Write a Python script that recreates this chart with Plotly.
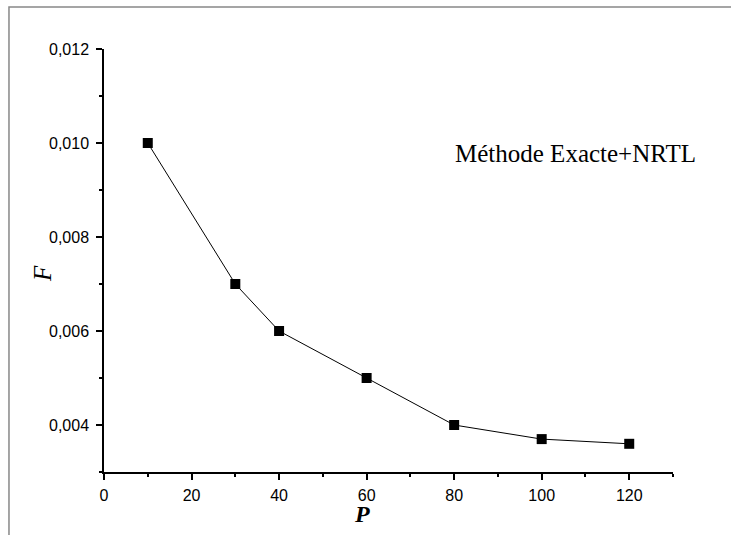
import plotly.graph_objects as go

# data
P = [10, 30, 40, 60, 80, 100, 120]
F = [0.010, 0.007, 0.006, 0.005, 0.004, 0.0037, 0.0036]

x_ticks = [0, 20, 40, 60, 80, 100, 120]
y_ticks = [0.004, 0.006, 0.008, 0.010, 0.012]
y_labels = ["0,004", "0,006", "0,008", "0,010", "0,012"]

fig = go.Figure()

fig.add_trace(go.Scatter(x=P, y=F,
                    mode='lines+markers',
                    line=dict(color='black', width=1),
                    marker=dict(symbol='square', size=10, color='black'),
                    showlegend=False))

axis_font = dict(family="Liberation Sans, Arial", size=16, color="black")

fig.update_xaxes(range=[0, 130], tickvals=x_ticks, ticktext=[str(v) for v in x_ticks],
                 showline=True, linecolor='black', linewidth=1.5, showgrid=False, zeroline=False,
                 ticks='outside', ticklen=6, tickwidth=1.5, tickcolor='black', tickfont=axis_font,
                 ticklabelstandoff=2,
                 minor=dict(dtick=10, tick0=0, ticks='outside', ticklen=3, tickwidth=1.5, tickcolor='black'))

fig.update_yaxes(range=[0.003, 0.012], tickvals=y_ticks, ticktext=y_labels,
                 showline=True, linecolor='black', linewidth=1.5, showgrid=False, zeroline=False,
                 ticks='outside', ticklen=6, tickwidth=1.5, tickcolor='black', tickfont=axis_font,
                 ticklabelstandoff=4,
                 minor=dict(dtick=0.001, tick0=0, ticks='outside', ticklen=3, tickwidth=1.5, tickcolor='black'))

# outer frame (gray, cut by the picture's right and bottom edges)
fig.add_shape(type='rect', xref='paper', yref='paper',
              x0=-0.167, x1=1.2, y0=-0.3, y1=1.099,
              line=dict(color='#888888', width=1.5))

# axis titles and label
fig.add_annotation(text="<b><i>P</i></b>", xref='paper', yref='paper',
                   x=(362 - 104) / 569, y=(472 - 514) / 423, showarrow=False,
                   xanchor='center', yanchor='middle',
                   font=dict(family="Liberation Serif", size=24, color='black'))
fig.add_annotation(text="<i>F</i>", xref='paper', yref='paper',
                   x=(42 - 104) / 569, y=(472 - 274) / 423, showarrow=False, textangle=-90,
                   xanchor='center', yanchor='middle',
                   font=dict(family="Liberation Serif", size=25, color='black'))
fig.add_annotation(text="Méthode Exacte+NRTL", xref='paper', yref='paper',
                   x=(575 - 104) / 569, y=(472 - 153) / 423, showarrow=False,
                   xanchor='center', yanchor='middle',
                   font=dict(family="Liberation Serif", size=25, color='black'))

fig.update_layout(width=731, height=535,
                  margin=dict(l=104, r=58, t=49, b=63),
                  paper_bgcolor='white', plot_bgcolor='white')

# page body margin removed so the figure sits at the window's corner
fig.write_html("out.html", config={'displayModeBar': False},
               post_script="document.body.style.margin='0';")
